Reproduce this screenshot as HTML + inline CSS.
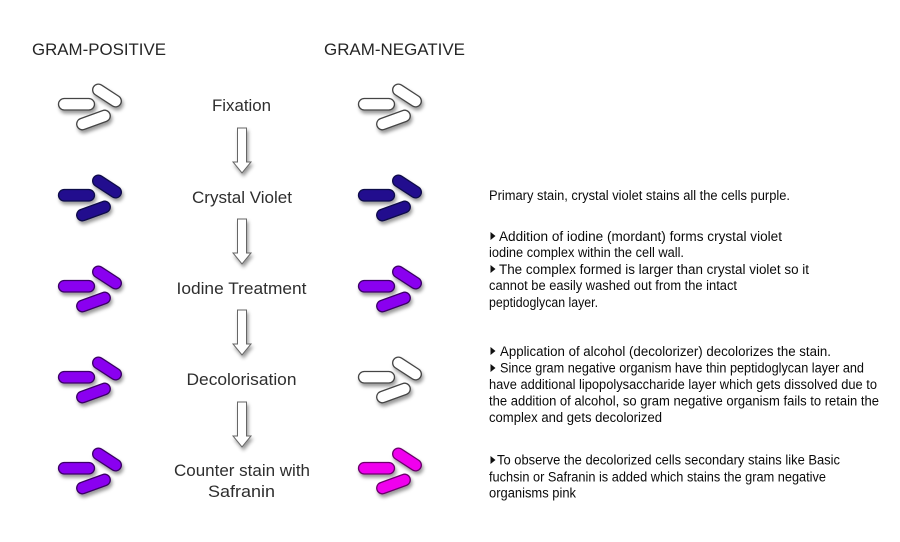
<!DOCTYPE html>
<html>
<head>
<meta charset="utf-8">
<style>
  html,body{margin:0;padding:0;background:#fff;}
  svg{display:block;}
  .hdr{font-family:"Liberation Sans",Arial,sans-serif;font-size:16.5px;fill:#262626;}
  .lbl{font-family:"Liberation Sans",Arial,sans-serif;font-size:17px;fill:#2e2e2e;}
  .txt{font-family:"Liberation Sans",Arial,sans-serif;font-size:13.5px;fill:#0a0a0a;}
</style>
</head>
<body>
<svg width="900" height="542" viewBox="0 0 900 542" xmlns="http://www.w3.org/2000/svg">
  <defs>
    <filter id="sh" x="-30%" y="-30%" width="160%" height="180%">
      <feDropShadow dx="1.5" dy="3" stdDeviation="1.8" flood-color="#000" flood-opacity="0.4"/>
    </filter>
    <g id="bac">
      <rect x="58.5" y="98.5" width="36" height="11.5" rx="5.75" ry="5.75"/>
      <rect x="-16" y="-5.75" width="32" height="11.5" rx="5.75" ry="5.75" transform="translate(107,95.5) rotate(33)"/>
      <rect x="-17.5" y="-5.75" width="35" height="11.5" rx="5.75" ry="5.75" transform="translate(93.5,120) rotate(-20)"/>
    </g>
    <g id="arrow">
      <path d="M237.5,0 L246.5,0 L246.5,34 L251,34 L242,45 L233,34 L237.5,34 Z"/>
    </g>
  </defs>

  <!-- Headers -->
  <text class="hdr" x="32" y="55" textLength="134" lengthAdjust="spacingAndGlyphs">GRAM-POSITIVE</text>
  <text class="hdr" x="324" y="55" textLength="141" lengthAdjust="spacingAndGlyphs">GRAM-NEGATIVE</text>

  <!-- Bacteria left column -->
  <g filter="url(#sh)" stroke-width="1.3">
    <use href="#bac" fill="#ffffff" stroke="#444" transform="translate(0,0)"/>
    <use href="#bac" fill="#22118e" stroke="#0e0748" transform="translate(0,91)"/>
    <use href="#bac" fill="#8a00f0" stroke="#3a0066" transform="translate(0,182)"/>
    <use href="#bac" fill="#8a00f0" stroke="#3a0066" transform="translate(0,273)"/>
    <use href="#bac" fill="#8a00f0" stroke="#3a0066" transform="translate(0,364)"/>
  </g>
  <!-- Bacteria right column -->
  <g filter="url(#sh)" stroke-width="1.3">
    <use href="#bac" fill="#ffffff" stroke="#444" transform="translate(300,0)"/>
    <use href="#bac" fill="#22118e" stroke="#0e0748" transform="translate(300,91)"/>
    <use href="#bac" fill="#8a00f0" stroke="#3a0066" transform="translate(300,182)"/>
    <use href="#bac" fill="#ffffff" stroke="#444" transform="translate(300,273)"/>
    <use href="#bac" fill="#f000ee" stroke="#6a006a" transform="translate(300,364)"/>
  </g>

  <!-- Arrows -->
  <g filter="url(#sh)" fill="#ffffff" stroke="#666" stroke-width="1">
    <use href="#arrow" transform="translate(0,128)"/>
    <use href="#arrow" transform="translate(0,219)"/>
    <use href="#arrow" transform="translate(0,310)"/>
    <use href="#arrow" transform="translate(0,402)"/>
  </g>

  <!-- Step labels -->
  <text class="lbl" x="241.5" y="111" text-anchor="middle" textLength="59" lengthAdjust="spacingAndGlyphs">Fixation</text>
  <text class="lbl" x="242" y="203" text-anchor="middle" textLength="100" lengthAdjust="spacingAndGlyphs">Crystal Violet</text>
  <text class="lbl" x="241.5" y="294" text-anchor="middle" textLength="130" lengthAdjust="spacingAndGlyphs">Iodine Treatment</text>
  <text class="lbl" x="241.5" y="385" text-anchor="middle" textLength="110" lengthAdjust="spacingAndGlyphs">Decolorisation</text>
  <text class="lbl" x="242" y="476" text-anchor="middle" textLength="136" lengthAdjust="spacingAndGlyphs">Counter stain with</text>
  <text class="lbl" x="241.5" y="497" text-anchor="middle" textLength="67" lengthAdjust="spacingAndGlyphs">Safranin</text>

  <!-- Right descriptions -->
  <text class="txt" x="489" y="200" textLength="301" lengthAdjust="spacingAndGlyphs">Primary stain, crystal violet stains all the cells purple.</text>

  <polygon points="490.5,232 495.5,236 490.5,240" fill="#111"/>
  <text class="txt" x="499" y="241" textLength="283" lengthAdjust="spacingAndGlyphs">Addition of iodine (mordant) forms crystal violet</text>
  <text class="txt" x="489" y="257" textLength="195" lengthAdjust="spacingAndGlyphs">iodine complex within the cell wall.</text>
  <polygon points="490.5,265 495.5,269 490.5,273" fill="#111"/>
  <text class="txt" x="499" y="274" textLength="310" lengthAdjust="spacingAndGlyphs">The complex formed is larger than crystal violet so it</text>
  <text class="txt" x="489" y="290" textLength="248" lengthAdjust="spacingAndGlyphs">cannot be easily washed out from the intact</text>
  <text class="txt" x="489" y="307" textLength="109" lengthAdjust="spacingAndGlyphs">peptidoglycan layer.</text>

  <polygon points="490.5,347 495.5,351 490.5,355" fill="#111"/>
  <text class="txt" x="500" y="356" textLength="331" lengthAdjust="spacingAndGlyphs">Application of alcohol (decolorizer) decolorizes the stain.</text>
  <polygon points="490.5,364 495.5,368 490.5,372" fill="#111"/>
  <text class="txt" x="500" y="372.5" textLength="364" lengthAdjust="spacingAndGlyphs">Since gram negative organism have thin peptidoglycan layer and</text>
  <text class="txt" x="489" y="389" textLength="388" lengthAdjust="spacingAndGlyphs">have additional lipopolysaccharide layer which gets dissolved due to</text>
  <text class="txt" x="489" y="405.5" textLength="390" lengthAdjust="spacingAndGlyphs">the addition of alcohol, so gram negative organism fails to retain the</text>
  <text class="txt" x="489" y="422" textLength="173" lengthAdjust="spacingAndGlyphs">complex and gets decolorized</text>

  <polygon points="490.5,456 495.5,460 490.5,464" fill="#111"/>
  <text class="txt" x="497" y="464.5" textLength="343" lengthAdjust="spacingAndGlyphs">To observe the decolorized cells secondary stains like Basic</text>
  <text class="txt" x="489" y="481.5" textLength="337" lengthAdjust="spacingAndGlyphs">fuchsin or Safranin is added which stains the gram negative</text>
  <text class="txt" x="489" y="497.5" textLength="87" lengthAdjust="spacingAndGlyphs">organisms pink</text>
</svg>
</body>
</html>
